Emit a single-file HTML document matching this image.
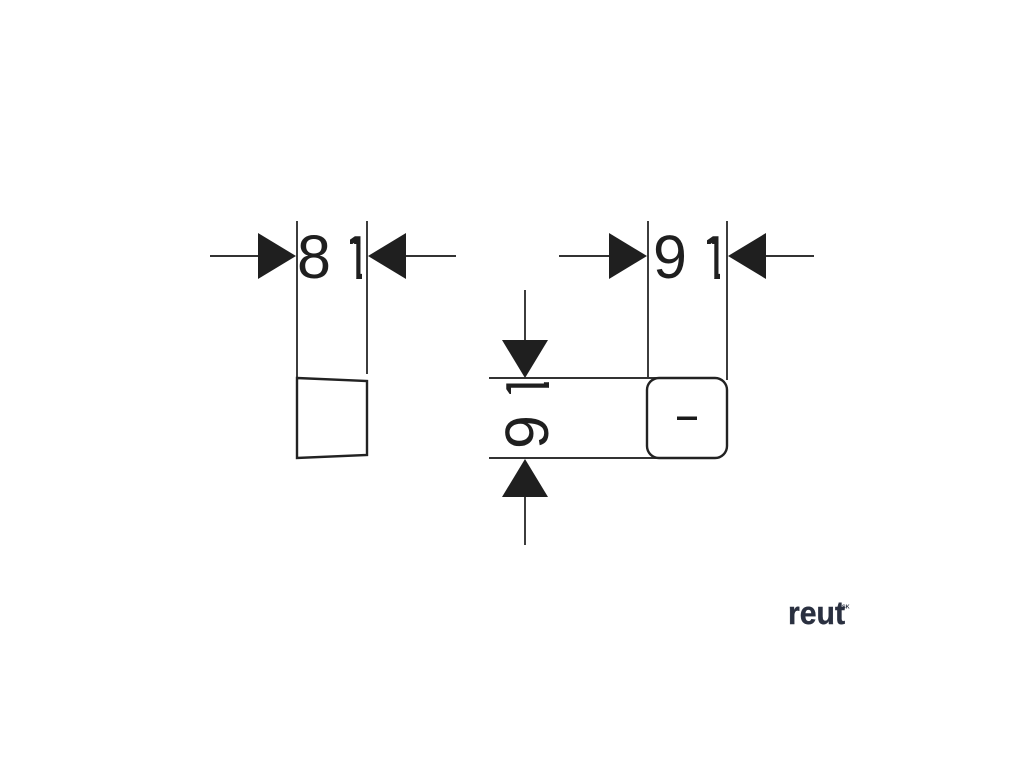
<!DOCTYPE html>
<html>
<head>
<meta charset="utf-8">
<style>
html,body{margin:0;padding:0;background:#fff;width:1024px;height:768px;overflow:hidden}
svg{display:block}
.d{font-family:"Liberation Sans",sans-serif;font-size:61px;fill:#1f1f1f}
.t{stroke:#1f1f1f;stroke-width:1}
.l{stroke:#333;stroke-width:1.9;fill:none}
.o{stroke:#222;stroke-width:2.4;fill:none}
.a{fill:#1f1f1f}
</style>
</head>
<body>
<svg width="1024" height="768" viewBox="0 0 1024 768" xmlns="http://www.w3.org/2000/svg">
<defs>
<clipPath id="c1"><polygon points="350,230 362,230 362,279 356.3,279 356.3,244 350,244"/></clipPath>
<clipPath id="c2"><polygon points="707,230 720,230 720,279 714.3,279 714.3,244 707,244"/></clipPath>
<clipPath id="c3"><polygon points="505,382.3 549,382.3 549,387.8 511,387.8 511,394 505,394"/></clipPath>
</defs>
<rect width="1024" height="768" fill="#fff"/>

<!-- Left view -->
<path class="l" d="M210 256H260M406 256H456M297 221V378M367 221V374"/>
<polygon class="a" points="258,233 296,256 258,279"/>
<polygon class="a" points="406,233 368,256 406,279"/>
<text class="d" x="297" y="278">8</text>
<g clip-path="url(#c1)"><text class="d t" x="339.25" y="279">1</text></g>
<polygon class="o" points="297,378 367,381 367,455 297,458"/>

<!-- Right view top dimension -->
<path class="l" d="M559 256H610M766 256H814M648 221V378M727 221V380"/>
<polygon class="a" points="609,233 647,256 609,279"/>
<polygon class="a" points="766,233 728,256 766,279"/>
<text class="d" x="653" y="278">9</text>
<g clip-path="url(#c2)"><text class="d t" x="697.25" y="279">1</text></g>

<!-- Right view side dimension -->
<path class="l" d="M525 290V340M525 497V545M489 378H660M489 458H660"/>
<polygon class="a" points="502,340 548,340 525,378"/>
<polygon class="a" points="525,459 548,497 502,497"/>
<g clip-path="url(#c3)"><text class="d t" transform="translate(549,404.75) rotate(-90)">1</text></g>
<text class="d" transform="translate(548,449) rotate(-90)">9</text>

<!-- Switch body -->
<rect class="o" x="647" y="378" width="80" height="80" rx="12" ry="12"/>
<rect x="677" y="416.5" width="20" height="3.5" fill="#1a1a1a"/>

<!-- Logo -->
<text x="788" y="624" font-family="'Liberation Sans',sans-serif" font-size="32" font-weight="bold" fill="#2a3040" stroke="#2a3040" stroke-width=".4" textLength="57" lengthAdjust="spacingAndGlyphs">reut</text>
<text x="842" y="608.5" font-family="'Liberation Sans',sans-serif" font-size="5.5" font-weight="bold" fill="#2a3040">SK</text>
</svg>
</body>
</html>
